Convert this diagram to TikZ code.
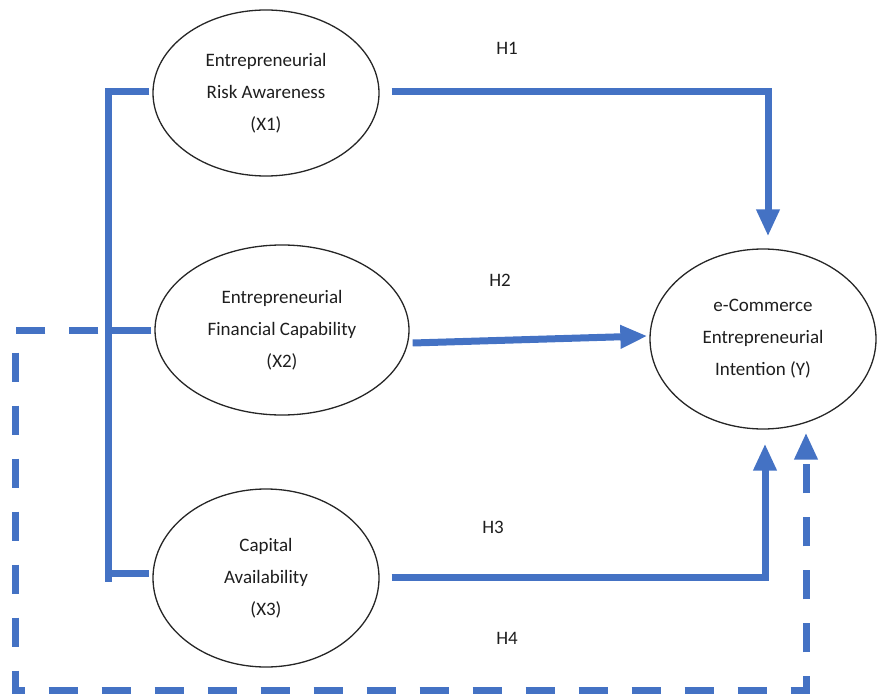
\documentclass[tikz,border=0pt]{standalone}
\usepackage{fontspec}
\setmainfont{Carlito}
\usetikzlibrary{shapes.geometric,arrows.meta}
\definecolor{lineblue}{HTML}{4472C4}
\definecolor{txt}{HTML}{1E1E1E}
\begin{document}
\begin{tikzpicture}[x=1pt,y=-1pt,
  var/.style={draw=black!85,line width=1.3pt,ellipse,inner sep=0pt,align=center,text=txt,
    font=\fontsize{19}{32}\selectfont},
  hlab/.style={text=txt,font=\fontsize{19}{22}\selectfont},
  link/.style={draw=lineblue,line width=7pt},
  arr/.style={link,-{Triangle[width=22pt,length=27pt]}},
  dashlink/.style={link,dash pattern=on 29pt off 24pt},
]
\useasboundingbox (0,0) rectangle (877,700);
\node[var,minimum width=226pt,minimum height=166pt] (X1) at (266,93)
  {Entrepreneurial\\Risk Awareness\\(X1)};
\node[var,minimum width=254pt,minimum height=170pt] (X2) at (282,330)
  {Entrepreneurial\\Financial Capability\\(X2)};
\node[var,minimum width=226pt,minimum height=178pt] (X3) at (266,578)
  {Capital\\Availability\\(X3)};
\node[var,minimum width=226pt,minimum height=180pt] (Y) at (763,339)
  {e-Commerce\\Entrepreneurial\\Intention (Y)};
\node[hlab] (H1) at (507,48) {H1};
\node[hlab] (H2) at (500,280) {H2};
\node[hlab] (H3) at (493,527) {H3};
\node[hlab] (H4) at (507,638) {H4};
% left bracket
\coordinate (bt) at (108,92);
\coordinate (bb) at (108,582);
\draw[link,line join=miter] ([shift={(-3,-1)}]X1.west) -- (bt) -- (bb);
\draw[link] (108,330) -- ([xshift=-3]X2.west);
\draw[link] (108,573) -- ([shift={(-3,-5)}]X3.west);
% H4 dashed path
\coordinate (d1) at (15,330);
\coordinate (d2) at (15,690);
\coordinate (d3) at (806,690);
\draw[dashlink,-{Triangle[width=22pt,length=27pt]}] ([xshift=-3]X2.west) -- (d1) -- (d2) -- (d3) -- ([shift={(43,3)}]Y.south);
% H1, H2, H3
\draw[arr,line join=miter] ([shift={(12,-1)}]X1.east) -| ([shift={(5,-12)}]Y.north);
\draw[arr] ([shift={(3,13)}]X2.east) -- ([shift={(-2,-3)}]Y.west);
\draw[arr,line join=miter] ([shift={(12,-1)}]X3.east) -| ([shift={(2,14)}]Y.south);
\end{tikzpicture}
\end{document}
